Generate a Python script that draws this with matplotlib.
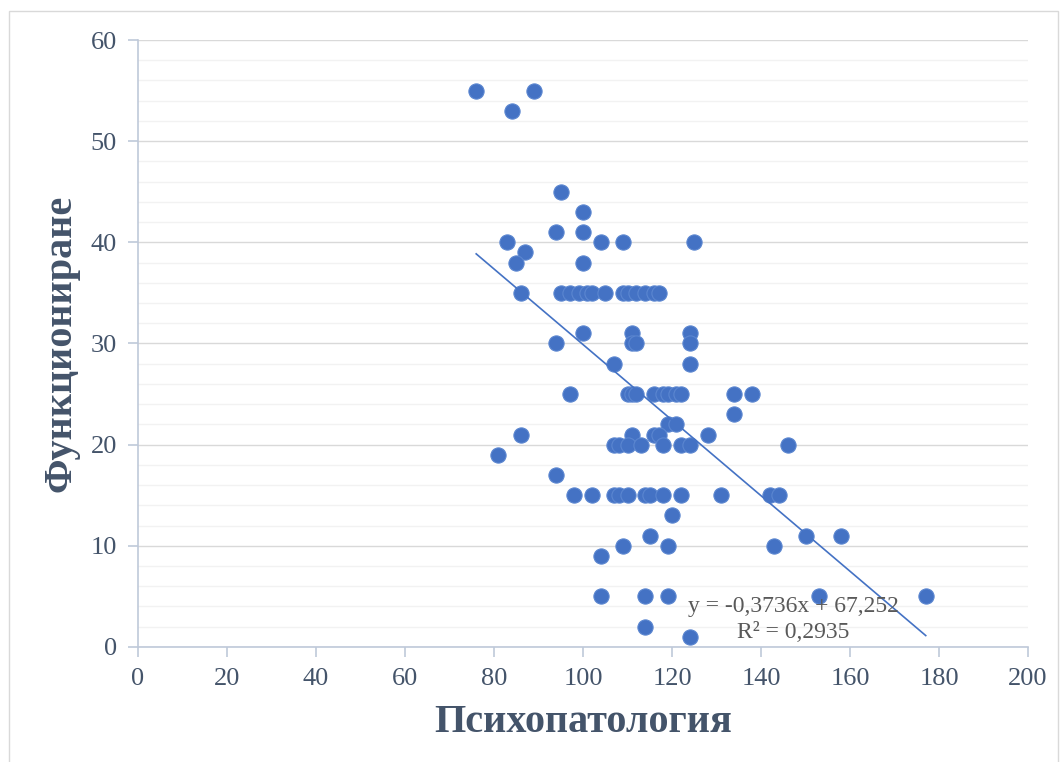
import matplotlib.pyplot as plt
from matplotlib.patches import Rectangle
from matplotlib.ticker import MultipleLocator

# Scores per patient
psycho = [76, 89, 84, 95, 100, 94, 100, 83, 104, 109, 125, 87, 85, 100,
          86, 95, 97, 99, 101, 102, 105, 109, 110, 112, 114, 116, 117,
          100, 111, 124, 94, 111, 112, 124, 107, 124,
          97, 110, 111, 112, 116, 118, 119, 121, 122, 134, 138,
          134, 119, 121, 86, 111, 116, 117, 128,
          107, 108, 110, 113, 118, 122, 124, 146, 81, 94,
          98, 102, 107, 108, 110, 114, 115, 118, 122, 131, 142, 144,
          120, 115, 150, 158, 109, 119, 143, 104,
          104, 114, 119, 153, 177, 114, 124]
functioning = [55, 55, 53, 45, 43, 41, 41, 40, 40, 40, 40, 39, 38, 38,
               35, 35, 35, 35, 35, 35, 35, 35, 35, 35, 35, 35, 35,
               31, 31, 31, 30, 30, 30, 30, 28, 28,
               25, 25, 25, 25, 25, 25, 25, 25, 25, 25, 25,
               23, 22, 22, 21, 21, 21, 21, 21,
               20, 20, 20, 20, 20, 20, 20, 20, 19, 17,
               15, 15, 15, 15, 15, 15, 15, 15, 15, 15, 15, 15,
               13, 11, 11, 11, 10, 10, 10, 9,
               5, 5, 5, 5, 5, 2, 1]

# Linear trend
slope = -0.3736
intercept = 67.252
r2 = 0.2935

blue = '#4472C4'
text_col = '#44546A'
serif = ['Liberation Serif', 'DejaVu Serif']

fig = plt.figure(figsize=(10.61, 7.62), dpi=100)
fig.patches.append(Rectangle((0.0085, -0.01), 0.989, 0.995, transform=fig.transFigure,
                             fill=False, edgecolor='#D9D9D9', linewidth=1.0))
ax = fig.add_axes([0.130, 0.151, 0.839, 0.7965])

ax.scatter(psycho, functioning, s=120, color=blue, edgecolor='#5B86D0',
           linewidth=0.8, zorder=3)

x0, x1 = min(psycho), max(psycho)
ax.plot([x0, x1], [slope * x0 + intercept, slope * x1 + intercept],
        color=blue, linewidth=1.2, zorder=4)

eq = 'y = {:.4f}x + {:.3f}'.format(slope, intercept).replace('.', ',')
ax.text(147.2, 2.75, eq + '\nR² = ' + f'{r2:.4f}'.replace('.', ','),
        ha='center', va='center', fontsize=17, color='#595959',
        family=serif, linespacing=1.3, zorder=5)

ax.set_xlim(0, 200)
ax.set_ylim(0, 60)
ax.xaxis.set_major_locator(MultipleLocator(20))
ax.yaxis.set_major_locator(MultipleLocator(10))
ax.yaxis.set_minor_locator(MultipleLocator(2))

ax.grid(axis='y', which='major', color='#D9D9D9', linewidth=1.0, zorder=0)
ax.grid(axis='y', which='minor', color='#F2F2F2', linewidth=1.0, zorder=0)
ax.set_axisbelow(True)

for side in ['top', 'right']:
    ax.spines[side].set_visible(False)
for side in ['left', 'bottom']:
    ax.spines[side].set_color('#BFC9D9')
    ax.spines[side].set_linewidth(1.2)

ax.tick_params(axis='both', which='major', length=7, width=1.2, color='#BFC9D9',
               labelsize=19, labelcolor=text_col, pad=8)
ax.tick_params(axis='y', which='minor', length=0)
for lab in ax.get_xticklabels() + ax.get_yticklabels():
    lab.set_family(serif)

ax.set_xlabel('Психопатология', fontsize=29, fontweight='bold', color=text_col,
              family=serif, labelpad=10)
ax.set_ylabel('Функциониране', fontsize=29, fontweight='bold', color=text_col,
              family=serif, labelpad=8)

fig.savefig('out.png', dpi=100)
